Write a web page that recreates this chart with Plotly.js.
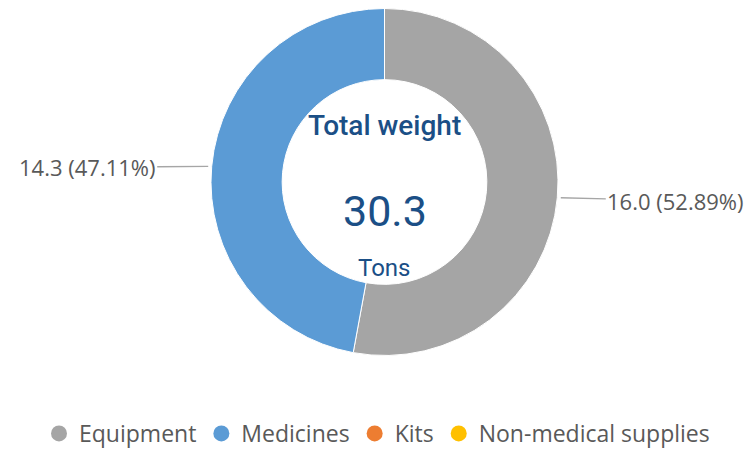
<!DOCTYPE html>
<html><head><meta charset="utf-8">
<script src="https://cdn.plot.ly/plotly-3.0.1.min.js"></script>
<style>html,body{margin:0;padding:0;background:#fff}#chart{width:754px;height:455px}</style>
</head><body><div id="chart"></div>
<script>
const categories = ["Equipment", "Medicines", "Kits", "Non-medical supplies"];
const weights = [16.03, 14.28, 0, 0];
const colors = ["#A5A5A5", "#5B9BD5", "#ED7D31", "#FFC000"];
const centerTitle = "Total weight";
const centerUnit = "Tons";

const W = 754, H = 455;
const cx = 384.5, cy = 182, R = 173, Rdom = 173.5;
const domX = [(cx - Rdom) / W, (cx + Rdom) / W];
const domY = [1 - (cy + Rdom) / H, 1 - (cy - Rdom) / H];
const total = weights.reduce((a, b) => a + b, 0);

const traces = [{
  type: "pie",
  labels: categories,
  values: weights,
  marker: {colors: colors, line: {color: "#ffffff", width: 1}},
  hole: 0.59,
  sort: false,
  direction: "clockwise",
  rotation: 0,
  textinfo: "none",
  showlegend: false,
  domain: {x: domX, y: domY}
}];
categories.forEach((c, i) => {
  traces.push({type: "scatter", mode: "markers", x: [null], y: [null], name: c,
    marker: {color: colors[i], size: 20, symbol: "circle"}, showlegend: true, hoverinfo: "skip"});
});

const annotations = [];
let cum = 0;
weights.forEach((v, i) => {
  if (v > 0) {
    const th = 2 * Math.PI * (cum + v / 2) / total;
    const px = cx + R * Math.sin(th), py = cy - R * Math.cos(th);
    const right = Math.sin(th) > 0;
    annotations.push({
      xref: "paper", yref: "paper", x: px / W, y: 1 - py / H,
      xanchor: "center", yanchor: "middle",
      text: v.toFixed(1) + " (" + (100 * v / total).toFixed(2) + "%)",
      showarrow: true, arrowhead: 0, arrowwidth: 1.3, arrowcolor: "#a6a6a6",
      ax: right ? 119 : -125, ay: right ? 3 : 1, standoff: 4,
      font: {family: "Open Sans, sans-serif", size: 22, color: "#595959"}
    });
  }
  cum += v;
});
const blue = "#1B4F86";
const centerFont = "Roboto, sans-serif";
annotations.push({xref: "paper", yref: "paper", x: cx / W, y: 1 - 125 / H, xanchor: "center", yanchor: "middle", showarrow: false,
  text: centerTitle, font: {family: centerFont, size: 28, color: blue, weight: 500}});
annotations.push({xref: "paper", yref: "paper", x: cx / W, y: 1 - 211 / H, xanchor: "center", yanchor: "middle", showarrow: false,
  text: total.toFixed(1), font: {family: centerFont, size: 43, color: blue}});
annotations.push({xref: "paper", yref: "paper", x: cx / W, y: 1 - 268 / H, xanchor: "center", yanchor: "middle", showarrow: false,
  text: centerUnit, font: {family: centerFont, size: 24, color: blue}});

const layout = {
  width: W, height: H,
  margin: {l: 0, r: 0, t: 0, b: 0},
  paper_bgcolor: "#ffffff", plot_bgcolor: "#ffffff",
  xaxis: {visible: false}, yaxis: {visible: false},
  showlegend: true,
  legend: {orientation: "h", x: 0.5, xanchor: "center", y: 0, yanchor: "bottom",
    font: {family: "Open Sans, sans-serif", size: 23, color: "#595959"}, itemwidth: 30, tracegroupgap: 0},
  annotations: annotations
};
Plotly.newPlot("chart", traces, layout, {displayModeBar: false, staticPlot: true});
</script></body></html>
